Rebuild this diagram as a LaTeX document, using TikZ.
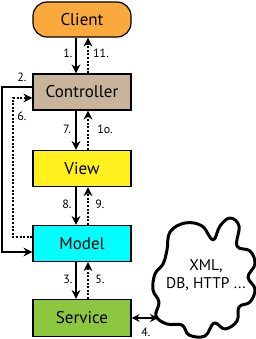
\documentclass[tikz,border=0pt]{standalone}
\usepackage{fontspec}
\setmainfont{PT Sans}
\usetikzlibrary{arrows.meta}
\definecolor{cclient}{HTML}{FAAA3C}
\definecolor{cctrl}{HTML}{C8B49B}
\definecolor{cview}{HTML}{FFF01E}
\definecolor{cmodel}{HTML}{00FFFF}
\definecolor{cserv}{HTML}{8CC63F}
\tikzset{
  box/.style={draw=black, line width=1.2pt, minimum width=98pt, minimum height=36pt, font=\fontsize{17}{19}\selectfont, inner sep=0pt},
  lbl/.style={font=\fontsize{12}{14}\selectfont, inner sep=0pt},
  req/.style={line width=1.3pt, -{Stealth[length=9pt,width=9pt]}},
  resp/.style={line width=1.3pt, dash pattern=on 2pt off 1.6pt, -{Stealth[length=9pt,width=9pt]}},
}
\begin{document}
\begin{tikzpicture}[x=1pt,y=-1pt]
\useasboundingbox (0,0) rectangle (256,339);
\node[box, fill=cclient, rounded corners=14pt, minimum height=35pt] (client) at (82,19.5) {Client};
\node[box, fill=cctrl] (ctrl) at (82,92) {Controller};
\node[box, fill=cview] (view) at (82,168.5) {View};
\node[box, fill=cmodel] (model) at (82,243.5) {Model};
\node[box, fill=cserv, minimum height=37pt] (serv) at (82,318) {Service};
% vertical arrows
\draw[req] ([xshift=-6pt]client.south) -- ([xshift=-6pt]ctrl.north);
\draw[resp] ([xshift=6pt]ctrl.north) -- ([xshift=6pt]client.south);
\draw[req] ([xshift=-6pt]ctrl.south) -- ([xshift=-6pt]view.north);
\draw[resp] ([xshift=6pt]view.north) -- ([xshift=6pt]ctrl.south);
\draw[req] ([xshift=-6pt]view.south) -- ([xshift=-6pt]model.north);
\draw[resp] ([xshift=6pt]model.north) -- ([xshift=6pt]view.south);
\draw[req] ([xshift=-6pt]model.south) -- ([xshift=-6pt]serv.north);
\draw[resp] ([xshift=6pt]serv.north) -- ([xshift=6pt]model.south);
% side connectors
\coordinate (sa) at (2,87);
\coordinate (sb) at (2,252);
\draw[req] (ctrl.west |- sa) -- (sa) -- (sb) -- (model.west |- sb);
\coordinate (da) at (13,237);
\coordinate (db) at (13,98);
\draw[resp] (model.west |- da) -- (da) -- (db) -- (ctrl.west |- db);
% labels
\node[lbl] (l1) at (68,53) {1.};
\node[lbl] (l11) at (101,53) {11.};
\node[lbl] (l2) at (22,77) {2.};
\node[lbl] (l6) at (22,116) {6.};
\node[lbl] (l7) at (67,129) {7.};
\node[lbl] (l10) at (105,129) {1o.};
\node[lbl] (l8) at (67,204) {8.};
\node[lbl] (l9) at (100,204) {9.};
\node[lbl] (l3) at (68,279) {3.};
\node[lbl] (l5) at (100,279) {5.};
\node[lbl] (l4) at (146,332) {4.};
% cloud
\draw[line width=3pt, line join=round] plot[smooth cycle, tension=0.65] coordinates {
 (167,250) (170,232) (185,223) (202,226) (213,240)
 (220,226) (230,218) (239,226) (237,246)
 (250,251) (255,264) (248,277)
 (255,289) (250,302) (239,307)
 (237,321) (225,329) (214,323)
 (205,336) (189,335) (182,325)
 (167,324) (156,316) (159,302)
 (153,290) (155,274) (163,264)
};
\coordinate (cl) at (158,318);
\node[font=\fontsize{15.5}{18}\selectfont, align=center, inner sep=0pt] (ctext) at (206,275) {XML,\\DB, HTTP ...};
\draw[line width=1.3pt, {Stealth[length=8pt,width=8pt]}-{Stealth[length=8pt,width=8pt]}] (serv.east |- cl) -- (cl);
\end{tikzpicture}
\end{document}
